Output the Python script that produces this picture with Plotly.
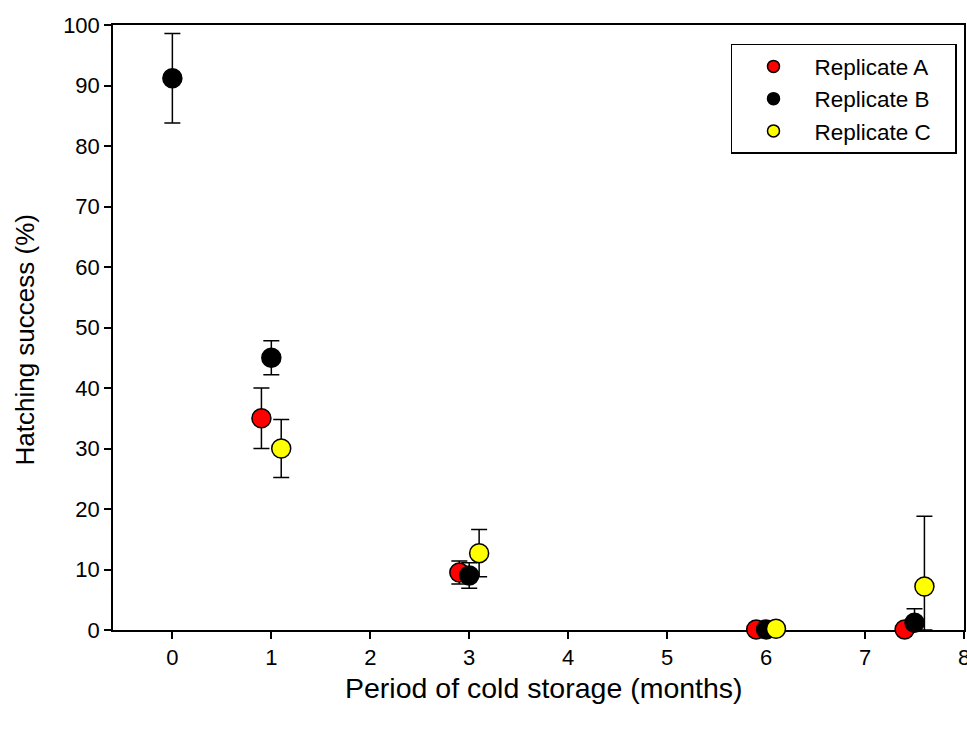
import plotly.graph_objects as go

# Data
xa = [0.9, 2.9, 5.9, 7.4]
ya = [35.0, 9.5, 0.1, 0.1]
ea = [5.0, 1.9, 0.0, 0.0]

xb = [0, 1, 3, 6, 7.5]
yb = [91.2, 45.0, 9.0, 0.1, 1.2]
eb = [7.4, 2.8, 2.1, 0.0, 2.3]

xc = [1.1, 3.1, 6.1, 7.6]
yc = [30.0, 12.7, 0.2, 7.2]
ec_up = [4.8, 3.9, 0.0, 11.6]
ec_dn = [4.8, 3.9, 0.0, 7.2]

names = ["Replicate A", "Replicate B", "Replicate C"]
colors = ["#ff0000", "#000000", "#ffff00"]
x_title = "Period of cold storage (months)"
y_title = "Hatching success (%)"

FONT = "Liberation Sans, Arial, sans-serif"

fig = go.Figure()

series = [
    (xa, ya, ea, ea),
    (xb, yb, eb, eb),
    (xc, yc, ec_up, ec_dn),
]
for (x, y, eu, ed), n, c in zip(series, names, colors):
    fig.add_trace(go.Scatter(
        x=x, y=y, mode="markers", name=n, showlegend=False,
        cliponaxis=False,
        marker=dict(size=19, color=c, line=dict(color="black", width=1.5)),
        error_y=dict(type="data", symmetric=False, array=eu, arrayminus=ed,
                     color="black", thickness=1.5, width=8),
    ))

for n, c in zip(names, colors):
    fig.add_trace(go.Scatter(
        x=[None], y=[None], mode="markers", name=n + "\u00a0\u00a0\u00a0", showlegend=True,
        marker=dict(size=12, color=c, line=dict(color="black", width=1.5)),
    ))

fig.update_layout(
    width=967, height=729,
    margin=dict(l=113, r=3, t=25, b=99),
    paper_bgcolor="white", plot_bgcolor="white",
    font=dict(family=FONT, color="black", size=22),
    legend=dict(
        x=0.7262, y=0.969, xanchor="left", yanchor="top",
        bordercolor="black", borderwidth=1.5, bgcolor="white",
        font=dict(size=22.5, family=FONT),
        itemwidth=72,
    ),
    xaxis=dict(
        range=[-0.6, 8], tickmode="array", tickvals=list(range(0, 9)),
        ticks="outside", ticklen=7, tickwidth=1.5, tickcolor="black",
        showline=True, linecolor="black", linewidth=1.5, mirror=True,
        showgrid=False, zeroline=False, layer="below traces",
        ticklabeloverflow="allow", automargin=False,
        tickfont=dict(size=22),
    ),
    yaxis=dict(
        range=[0, 100], tickmode="array", tickvals=list(range(0, 101, 10)),
        ticks="outside", ticklen=7, tickwidth=1.5, tickcolor="black",
        showline=True, linecolor="black", linewidth=1.5, mirror=True,
        showgrid=False, zeroline=False, layer="below traces",
        automargin=False,
        tickfont=dict(size=22),
    ),
    annotations=[
        dict(text=x_title, xref="paper", yref="paper", x=0.5065, y=-0.0959,
             xanchor="center", yanchor="middle", showarrow=False,
             font=dict(size=28.5, family=FONT, color="black")),
        dict(text=y_title, xref="paper", yref="paper", x=-0.1034, y=0.4785,
             xanchor="center", yanchor="middle", showarrow=False, textangle=-90,
             font=dict(size=26, family=FONT, color="black")),
    ],
)

fig.write_html("out.html")
